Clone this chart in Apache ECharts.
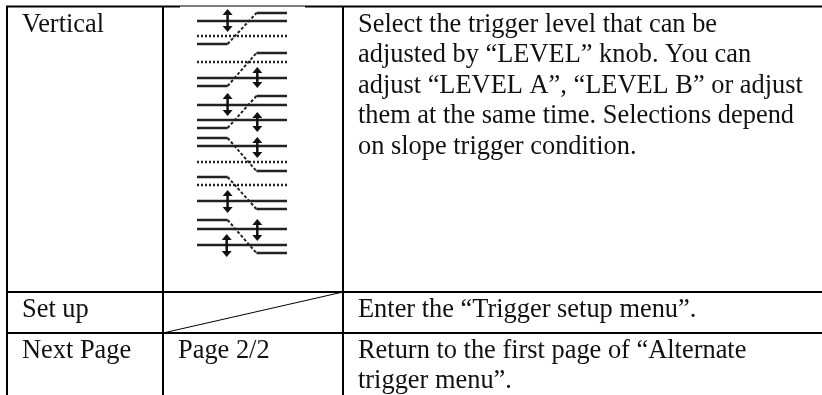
<!DOCTYPE html>
<html>
<head>
<meta charset="utf-8">
<title>Alternate trigger menu</title>
<script src="https://cdn.jsdelivr.net/npm/echarts@6/dist/echarts.min.js"></script>
<style>
    html, body { margin: 0; padding: 0; background: #fff; }
    #table_chart { width: 822px; height: 395px; }
</style>
</head>
<body>
<div id="table_chart"></div>
<script>
// Table text
var rowNames = ['Vertical', 'Set up', 'Next Page'];
var optionNames = ['', '', 'Page 2/2'];
var verticalLines = [
    'Select the trigger level that can be',
    'adjusted by \u201cLEVEL\u201d knob. You can',
    'adjust \u201cLEVEL A\u201d, \u201cLEVEL B\u201d or adjust',
    'them at the same time. Selections depend',
    'on slope trigger condition.'
];
var setupLines = ['Enter the \u201cTrigger setup menu\u201d.'];
var nextPageLines = ['Return to the first page of \u201cAlternate', 'trigger menu\u201d.'];

// Trigger icons: time runs 0-100, level runs 0 (top) to 33 (bottom)
var edgeTime = [0, 34, 66, 100];
var waveLevels = [
    [36, 36, 5, 5],
    [34, 34, 1, 1],
    [34, 34, 2, 2],
    [1, 1, 34, 34],
    [1, 1, 33, 33],
    [1, 1, 34, 34]
];
var solidLevels = [[13], [26], [11, 26], [9], [25], [10, 26]];
var dottedLevels = [[28], [10], [], [25], [9], []];
var arrowPositions = [[34], [67], [34, 67], [67], [34], [67, 33]];
var arrowSpans = [
    [[4, 21]],
    [[18, 33]],
    [[2, 19], [21, 35]],
    [[3, 18]],
    [[17, 34]],
    [[3, 19], [18, 35]]
];

// Layout
var iconTops = [8, 52, 94, 137, 176, 219];
var iconLeft = 197;
var iconWidth = 90;
var iconHeight = 33;
var colX = [7, 163, 343];
var rowY = [6.5, 292, 333];
var textFont = '"Liberation Serif", "Times New Roman", serif';

var grids = [], xAxes = [], yAxes = [], series = [];

iconTops.forEach(function(top, i) {
    grids.push({ left: iconLeft, top: top, width: iconWidth, height: iconHeight });
    xAxes.push({ type: 'value', gridIndex: i, min: 0, max: 100, show: false });
    yAxes.push({ type: 'value', gridIndex: i, min: 0, max: 33, inverse: true, show: false });

    function addLine(points, style, extra) {
        series.push(Object.assign({
            type: 'line',
            xAxisIndex: i,
            yAxisIndex: i,
            data: points,
            symbol: 'none',
            silent: true,
            animation: false,
            clip: false,
            lineStyle: style
        }, extra || {}));
    }

    // Waveform: flat parts solid, edge dashed
    var w = waveLevels[i];
    addLine([[edgeTime[0], w[0]], [edgeTime[1], w[1]]], { color: '#222', width: 2.5 });
    addLine([[edgeTime[1], w[1]], [edgeTime[2], w[2]]], { color: '#222', width: 2, type: [3, 2] });
    addLine([[edgeTime[2], w[2]], [edgeTime[3], w[3]]], { color: '#222', width: 2.5 });

    solidLevels[i].forEach(function(level) {
        addLine([[0, level], [100, level]], { color: '#222', width: 2.5 });
    });
    dottedLevels[i].forEach(function(level) {
        addLine([[0, level], [100, level]], { color: '#222', width: 2.5, type: [2, 2] });
    });
    arrowSpans[i].forEach(function(span, j) {
        var t = arrowPositions[i][j];
        addLine([[t, span[0]], [t, span[1]]], { color: '#111', width: 2.5 }, {
            symbol: 'triangle',
            symbolSize: [10, 6],
            symbolRotate: function(value) {
                return value[1] === span[0] ? 0 : 180;
            },
            showSymbol: true,
            showAllSymbol: true,
            itemStyle: { color: '#111' }
        });
    });
});

// Table rules and text
function rule(x1, y1, x2, y2, width) {
    return {
        type: 'line',
        shape: { x1: x1, y1: y1, x2: x2, y2: y2 },
        style: { stroke: '#000', lineWidth: width },
        silent: true
    };
}

function textBlock(lines, x, baseline, lineGap) {
    return lines.map(function(line, i) {
        return {
            type: 'text',
            x: x,
            y: baseline + i * lineGap - 19,
            style: { text: line, font: '26.4px ' + textFont, fill: '#111', textVerticalAlign: 'top' },
            silent: true
        };
    });
}

var graphics = [
    rule(colX[0] - 1, rowY[0], 180, rowY[0], 2),
    rule(180, 6, 305, 6, 1),
    rule(305, rowY[0], 822, rowY[0], 2),
    rule(colX[0], rowY[1], 822, rowY[1], 2),
    rule(colX[0], rowY[2], 822, rowY[2], 2),
    rule(colX[0], rowY[0], colX[0], 395, 2),
    rule(colX[1], rowY[0], colX[1], 395, 2),
    rule(colX[2], rowY[0], colX[2], 395, 2),
    rule(colX[1], rowY[2], colX[2], rowY[1], 1)
]
.concat(textBlock([rowNames[0]], 22, 31, 30.4))
.concat(textBlock([rowNames[1]], 22, 316, 30.4))
.concat(textBlock([rowNames[2]], 22, 357, 30.4))
.concat(textBlock([optionNames[2]], 178, 357, 30.4))
.concat(textBlock(verticalLines, 358, 31, 30.4))
.concat(textBlock(setupLines, 358, 316, 30.4))
.concat(textBlock(nextPageLines, 358, 357, 30.4));

var table_chart = echarts.init(document.getElementById('table_chart'), null, { renderer: 'canvas' });
table_chart.setOption({
    animation: false,
    backgroundColor: '#fff',
    grid: grids,
    xAxis: xAxes,
    yAxis: yAxes,
    series: series,
    graphic: graphics
});
</script>
</body>
</html>
